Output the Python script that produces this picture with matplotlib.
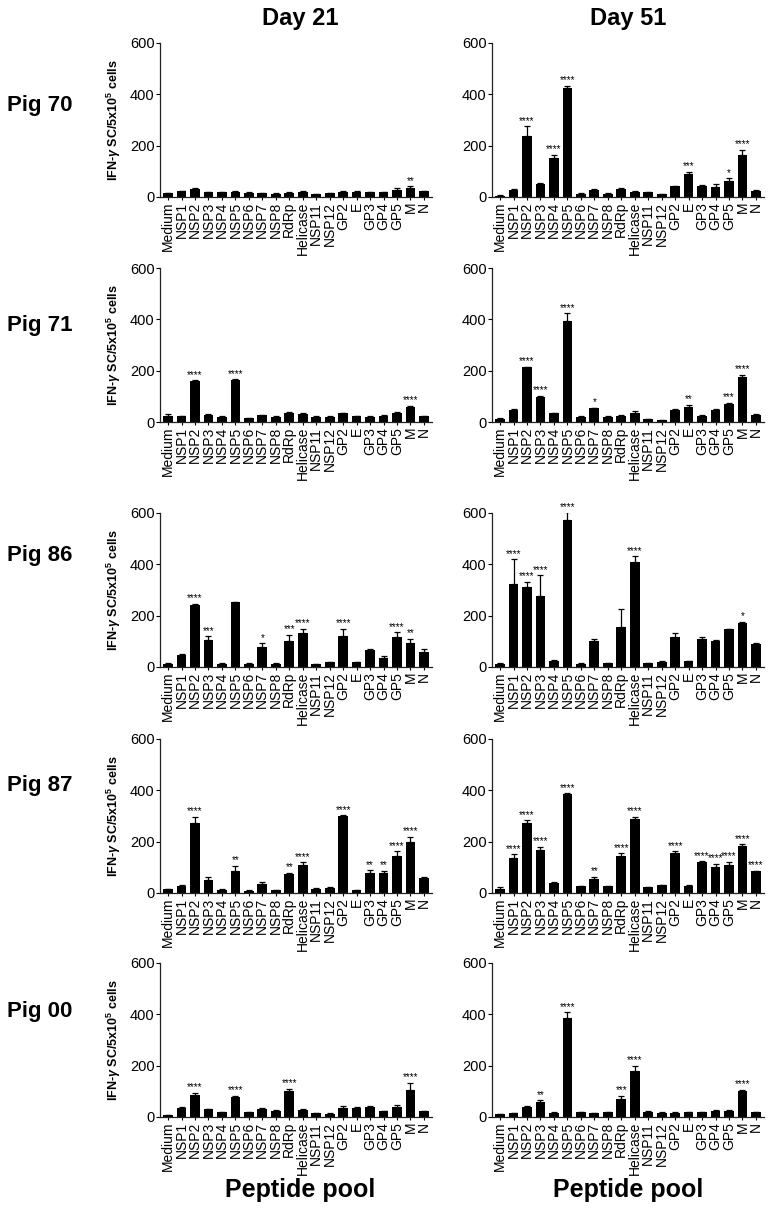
import numpy as np
import matplotlib.pyplot as plt

plt.rcParams["font.family"] = ["Liberation Sans", "DejaVu Sans"]
plt.rcParams["mathtext.fontset"] = "custom"
plt.rcParams["mathtext.rm"] = "Liberation Sans:bold"
plt.rcParams["mathtext.it"] = "Liberation Sans:italic:bold"
plt.rcParams["mathtext.bf"] = "Liberation Sans:bold"

# Peptide pools
peptides = ["Medium", "NSP1", "NSP2", "NSP3", "NSP4", "NSP5", "NSP6", "NSP7",
            "NSP8", "RdRp", "Helicase", "NSP11", "NSP12", "GP2", "E", "GP3",
            "GP4", "GP5", "M", "N"]
pigs = ["Pig 70", "Pig 71", "Pig 86", "Pig 87", "Pig 00"]
days = ["Day 21", "Day 51"]

# Pig 70
pig70_d21 = [15, 22, 30, 18, 18, 20, 16, 15, 13, 17, 20, 10, 14, 18, 20, 18, 18, 28, 36, 22]
pig70_d21_err = [2, 3, 7, 2, 3, 3, 2, 2, 2, 2, 3, 2, 2, 4, 4, 3, 3, 8, 6, 2]
pig70_d21_sig = {"M": "**"}
pig70_d51 = [5, 28, 236, 50, 152, 426, 12, 26, 13, 33, 21, 19, 11, 41, 88, 44, 38, 62, 165, 24]
pig70_d51_err = [1, 4, 40, 3, 12, 8, 2, 5, 2, 3, 2, 2, 1, 2, 11, 3, 11, 11, 18, 2]
pig70_d51_sig = {"NSP2": "****", "NSP4": "****", "NSP5": "****", "E": "***",
                 "GP5": "*", "M": "****"}

# Pig 71
pig71_d21 = [22, 23, 159, 28, 19, 164, 14, 26, 21, 36, 32, 20, 20, 34, 22, 21, 23, 35, 58, 22]
pig71_d21_err = [10, 2, 4, 3, 3, 2, 2, 3, 2, 2, 3, 2, 2, 3, 2, 2, 4, 3, 6, 2]
pig71_d21_sig = {"NSP2": "****", "NSP5": "****", "M": "****"}
pig71_d51 = [13, 47, 214, 99, 34, 395, 21, 53, 21, 24, 36, 10, 8, 48, 57, 25, 47, 72, 174, 29]
pig71_d51_err = [3, 4, 2, 2, 2, 28, 2, 3, 2, 2, 8, 1, 1, 2, 11, 2, 2, 3, 11, 3]
pig71_d51_sig = {"NSP2": "****", "NSP3": "****", "NSP5": "****", "NSP7": "*",
                 "E": "**", "GP5": "***", "M": "****"}

# Pig 86
pig86_d21 = [13, 48, 240, 105, 13, 252, 13, 77, 13, 100, 134, 11, 18, 122, 18, 67, 36, 115, 95, 57]
pig86_d21_err = [2, 3, 7, 15, 2, 2, 2, 16, 2, 25, 15, 2, 3, 28, 3, 5, 8, 21, 15, 12]
pig86_d21_sig = {"NSP2": "****", "NSP3": "***", "NSP7": "*", "RdRp": "***",
                 "Helicase": "****", "GP2": "****", "GP5": "****", "M": "**"}
pig86_d51 = [13, 322, 311, 278, 22, 572, 13, 103, 15, 155, 410, 15, 21, 116, 22, 109, 102, 147, 172, 91]
pig86_d51_err = [2, 98, 20, 80, 5, 30, 2, 8, 2, 70, 22, 2, 3, 15, 3, 8, 5, 3, 5, 3]
pig86_d51_sig = {"NSP1": "****", "NSP2": "****", "NSP3": "****", "NSP5": "****",
                 "Helicase": "****", "M": "*"}

# Pig 87
pig87_d21 = [15, 28, 274, 50, 13, 84, 9, 36, 10, 75, 108, 16, 20, 300, 11, 78, 78, 145, 200, 58]
pig87_d21_err = [2, 3, 24, 12, 2, 23, 1, 5, 2, 3, 12, 2, 3, 2, 1, 10, 8, 18, 20, 3]
pig87_d21_sig = {"NSP2": "****", "NSP5": "**", "RdRp": "**", "Helicase": "****",
                 "GP2": "****", "GP3": "**", "GP4": "**", "GP5": "****", "M": "****"}
pig87_d51 = [17, 136, 274, 168, 39, 385, 27, 56, 26, 145, 287, 23, 31, 154, 27, 120, 103, 111, 185, 84]
pig87_d51_err = [5, 15, 10, 12, 2, 3, 2, 8, 3, 10, 10, 2, 2, 8, 3, 4, 10, 10, 4, 2]
pig87_d51_sig = {"NSP1": "****", "NSP2": "****", "NSP3": "****", "NSP5": "****",
                 "NSP7": "**", "RdRp": "****", "Helicase": "****", "GP2": "****",
                 "GP3": "****", "GP4": "****", "GP5": "****", "M": "****", "N": "****"}

# Pig 00
pig00_d21 = [6, 35, 84, 30, 19, 77, 19, 33, 24, 102, 28, 15, 13, 37, 37, 38, 22, 38, 105, 22]
pig00_d21_err = [1, 3, 10, 2, 2, 5, 2, 3, 2, 8, 2, 2, 1, 5, 3, 3, 2, 8, 28, 2]
pig00_d21_sig = {"NSP2": "****", "NSP5": "****", "RdRp": "****", "M": "****"}
pig00_d51 = [10, 14, 38, 60, 17, 384, 18, 15, 18, 72, 178, 21, 17, 17, 18, 19, 23, 22, 102, 18]
pig00_d51_err = [2, 2, 3, 5, 2, 24, 2, 1, 2, 10, 22, 3, 2, 2, 2, 2, 3, 5, 4, 2]
pig00_d51_sig = {"NSP3": "**", "NSP5": "****", "RdRp": "***", "Helicase": "****", "M": "****"}

rows = [
    [(pig70_d21, pig70_d21_err, pig70_d21_sig), (pig70_d51, pig70_d51_err, pig70_d51_sig)],
    [(pig71_d21, pig71_d21_err, pig71_d21_sig), (pig71_d51, pig71_d51_err, pig71_d51_sig)],
    [(pig86_d21, pig86_d21_err, pig86_d21_sig), (pig86_d51, pig86_d51_err, pig86_d51_sig)],
    [(pig87_d21, pig87_d21_err, pig87_d21_sig), (pig87_d51, pig87_d51_err, pig87_d51_sig)],
    [(pig00_d21, pig00_d21_err, pig00_d21_sig), (pig00_d51, pig00_d51_err, pig00_d51_sig)],
]

W, H = 770, 1215
fig = plt.figure(figsize=(W / 100, H / 100), dpi=100)

# axes zero line (px from top) per row, and left edge per column
row_zero = [197, 422, 667, 893, 1117]
col_left = [160, 492]
ax_w, ax_h = 272, 154
pig_y = [105, 325, 555, 785, 1012]

x = np.arange(len(peptides))

for r, row in enumerate(rows):
    for c, (vals, errs, sig) in enumerate(row):
        ax = fig.add_axes([col_left[c] / W, 1 - row_zero[r] / H, ax_w / W, ax_h / H])
        ax.bar(x, vals, width=0.72, color="black")
        ax.errorbar(x, vals, yerr=[np.zeros(len(errs)), errs], fmt="none",
                    ecolor="black", elinewidth=0.9, capsize=2, capthick=0.9)
        for name, stars in sig.items():
            i = peptides.index(name)
            ax.text(i, vals[i] + errs[i] + 2, stars, ha="center", va="bottom",
                    fontsize=7, clip_on=False)
        ax.set_xlim(-0.6, len(peptides) - 0.4)
        ax.set_ylim(0, 600)
        ax.set_yticks([0, 200, 400, 600])
        ax.set_xticks(x)
        ax.set_xticklabels(peptides, rotation=90, fontsize=10)
        ax.tick_params(axis="y", labelsize=10.5, length=3, width=0.8, pad=1)
        ax.tick_params(axis="x", length=2.5, width=0.8, pad=1)
        for s in ["top", "right"]:
            ax.spines[s].set_visible(False)
        for s in ["left", "bottom"]:
            ax.spines[s].set_linewidth(0.9)
            ax.spines[s].set_color("#222222")
        if c == 0:
            ax.set_ylabel(r"IFN-$\gamma$ SC/5x10$^5$ cells", fontsize=9,
                          fontweight="bold", labelpad=5)
    fig.text(40 / W, 1 - pig_y[r] / H, pigs[r], fontsize=16, fontweight="bold",
             ha="center", va="center")

day_x = [300, 628]
for c in range(2):
    fig.text(day_x[c] / W, 1 - 18 / H, days[c], fontsize=17, fontweight="bold",
             ha="center", va="center")
    fig.text(day_x[c] / W, 1 - 1190 / H, "Peptide pool", fontsize=18,
             fontweight="bold", ha="center", va="center")

fig.savefig("out.png", dpi=100)
